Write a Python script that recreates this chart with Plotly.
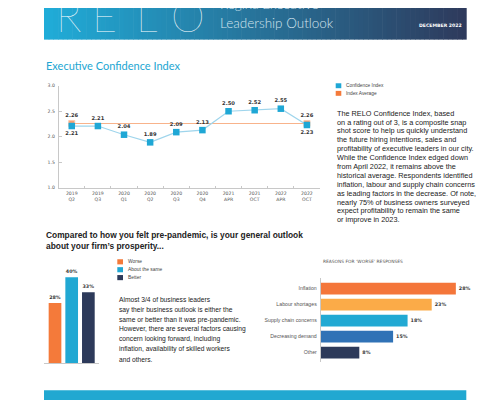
import plotly.graph_objects as go

W, H = 495, 400
def px(x): return x / W
def py(y): return 1 - y / H

# ---------------- data ----------------
periods = ["2019<br>Q2", "2019<br>Q3", "2020<br>Q1", "2020<br>Q2", "2020<br>Q3",
           "2020<br>Q4", "2021<br>APR", "2021<br>OCT", "2022<br>APR", "2022<br>OCT"]
confidence = [2.21, 2.21, 2.04, 1.89, 2.09, 2.13, 2.50, 2.52, 2.55, 2.23]
index_average = [2.26, 2.26, 2.26, 2.26, 2.26, 2.26, 2.26, 2.26, 2.26, 2.26]
y_ticks = [1.0, 1.5, 2.0, 2.5, 3.0]

outlook_cats = ["Worse", "About the same", "Better"]
outlook_vals = [28, 40, 33]

reasons = ["Inflation", "Labour shortages", "Supply chain concerns", "Decreasing demand", "Other"]
reason_vals = [28, 23, 18, 15, 8]

# ---------------- styles ----------------
BLUE = "#1fa7d5"
LBLUE = "#9fd5ec"
ORANGE = "#f47a3a"
LORANGE = "#f8b38b"
NAVY = "#2d3a5a"
outlook_colors = [ORANGE, "#21a8d3", NAVY]
reason_colors = ["#f4763a", "#fbab48", "#22a9d3", "#3072b6", "#2d3a5a"]
BODY = "Liberation Sans, Arial, sans-serif"
MONO = "DejaVu Sans, sans-serif"

fig = go.Figure()

# line chart
fig.add_trace(go.Scatter(
    x=periods, y=index_average, mode="lines+markers+text",
    line=dict(color=LORANGE, width=1.2),
    marker=dict(symbol="square", color=ORANGE,
                size=[6 if i in (0, len(periods) - 1) else 0 for i in range(len(periods))]),
    text=["%.2f" % v if i in (0, len(periods) - 1) else "" for i, v in enumerate(index_average)],
    textposition="top center",
    textfont=dict(family=MONO, size=5.2, color="#333", weight="bold"),
    cliponaxis=False, xaxis="x", yaxis="y", showlegend=False, hoverinfo="skip"))

fig.add_trace(go.Scatter(
    x=periods, y=confidence, mode="lines+markers+text",
    line=dict(color=LBLUE, width=1.2),
    marker=dict(symbol="square", color=BLUE, size=6.5),
    text=["%.2f" % v for v in confidence],
    textposition=["bottom center" if i in (0, len(confidence) - 1) else "top center"
                  for i in range(len(confidence))],
    textfont=dict(family=MONO, size=5.2, color="#333", weight="bold"),
    cliponaxis=False, xaxis="x", yaxis="y", showlegend=False))

# vertical bars
fig.add_trace(go.Bar(
    x=outlook_cats, y=outlook_vals, marker=dict(color=outlook_colors, line=dict(width=0)),
    width=0.76, text=["%d%%" % v for v in outlook_vals], textposition="outside",
    textfont=dict(family=MONO, size=4.8, color="#333", weight="bold"),
    cliponaxis=False, xaxis="x2", yaxis="y2", showlegend=False))

# horizontal bars
fig.add_trace(go.Bar(
    y=reasons, x=reason_vals, orientation="h",
    marker=dict(color=reason_colors, line=dict(width=0)),
    width=0.74, text=["%d%%" % v for v in reason_vals], textposition="outside",
    textfont=dict(family=MONO, size=4.8, color="#333", weight="bold"),
    cliponaxis=False, xaxis="x3", yaxis="y3", showlegend=False))

shapes = []
# header gradient band
c0 = (0x20, 0xac, 0xd8)
c1 = (0x2e, 0x3a, 0x5c)
N = 90
x0, x1 = 36, 458.7
for i in range(N):
    t = i / (N - 1)
    col = "rgb(%d,%d,%d)" % tuple(round(c0[k] + (c1[k] - c0[k]) * t) for k in range(3))
    xa = x0 + (x1 - x0) * i / N
    xb = x0 + (x1 - x0) * (i + 1) / N + 0.6
    shapes.append(dict(type="rect", xref="paper", yref="paper", x0=px(xa), x1=px(min(xb, x1)),
                       y0=py(30), y1=py(-2), fillcolor=col, line=dict(width=0), layer="below"))
# bottom band
shapes.append(dict(type="rect", xref="paper", yref="paper", x0=px(36), x1=px(458.3),
                   y0=py(402), y1=py(385), fillcolor="#21a8d1", line=dict(width=0), layer="below"))
# legends squares
for yy, col in [(76.7, BLUE), (84.4, ORANGE)]:
    shapes.append(dict(type="rect", xref="paper", yref="paper", x0=px(327.7), x1=px(333.3),
                       y0=py(yy + 2.5), y1=py(yy - 2.5), fillcolor=col, line=dict(width=0)))
for yy, col in zip([255, 263, 271], outlook_colors):
    shapes.append(dict(type="rect", xref="paper", yref="paper", x0=px(109.3), x1=px(115),
                       y0=py(yy + 2.6), y1=py(yy - 2.6), fillcolor=col, line=dict(width=0)))

ann = []
def T(x, y, s, size, color="#222", family=BODY, weight="normal", xanchor="left"):
    ann.append(dict(x=px(x), y=py(y), xref="paper", yref="paper", text=s, showarrow=False,
                    xanchor=xanchor, yanchor="middle",
                    font=dict(family=family, size=size, color=color, weight=weight)))

# header text
for ch, cx in zip("RELO", [60, 96, 139, 180]):
    ann.append(dict(x=px(cx), y=py(5.5), xref="paper", yref="paper", text=ch, showarrow=False,
                    xanchor="center", yanchor="middle",
                    font=dict(family="Lato, DejaVu Sans", size=43, color="white", weight=200)))
T(210, -6, "Regina Executive", 13.5, "#d3e4ee", "Lato, DejaVu Sans", 300)
T(210, 13, "Leadership Outlook", 13.5, "#d3e4ee", "Lato, DejaVu Sans", 300)
T(409, 15.5, "DECEMBER 2022", 4.6, "white", MONO, "bold")
T(51.7, 400, "ABOUT THIS REPORT", 4.6, "white", MONO, "bold")

T(36, 56, "Executive Confidence Index", 11, "#22a6d2", "Lato, Liberation Sans", 400)
T(336, 76.7, "Confidence Index", 4.8, "#444", BODY)
T(336, 84.4, "Index Average", 4.8, "#444", BODY)

para1 = ["The RELO Confidence Index, based",
         "on a rating out of 3, is a composite snap",
         "shot score to help us quickly understand",
         "the future hiring intentions, sales and",
         "profitability of executive leaders in our city.",
         "While the Confidence Index edged down",
         "from April 2022, it remains above the",
         "historical average. Respondents identified",
         "inflation, labour and supply chain concerns",
         "as leading factors in the decrease. Of note,",
         "nearly 75% of business owners surveyed",
         "expect profitability to remain the same",
         "or improve in 2023."]
for i, s in enumerate(para1):
    T(327, 104.5 + i * 9.0, s, 7.3, "#222")

T(36, 228, "Compared to how you felt pre-pandemic, is your general outlook", 8.4, "#222", BODY, "bold")
T(36, 238.5, "about your firm\u2019s prosperity...", 8.4, "#222", BODY, "bold")

for yy, s in zip([255, 263, 271], outlook_cats):
    T(117.7, yy, s, 4.9, "#444", BODY)

para2 = ["Almost 3/4 of business leaders",
         "say their business outlook is either the",
         "same or better than it was pre-pandemic.",
         "However, there are several factors causing",
         "concern looking forward, including",
         "inflation, availability of skilled workers",
         "and others."]
for i, s in enumerate(para2):
    T(109, 293.5 + i * 10.0, s, 6.7, "#222")

T(312.7, 255, "REASONS FOR \u2018WORSE\u2019 RESPONSES", 4.4, "#555", MONO)

fig.update_layout(
    width=W, height=H, margin=dict(l=0, r=0, t=0, b=0),
    paper_bgcolor="white", plot_bgcolor="rgba(0,0,0,0)",
    shapes=shapes, annotations=ann, bargap=0.2,
    xaxis=dict(domain=[px(50.7), px(312)], type="category", range=[-0.5, 9.5],
               showline=True, linecolor="#c8c8c8", linewidth=0.8, showgrid=False, zeroline=False,
               ticks="inside", tickson="boundaries", ticklen=2, tickcolor="#c8c8c8",
               tickfont=dict(family=MONO, size=4.6, color="#555"), ticklabelstandoff=1),
    yaxis=dict(domain=[py(180), py(76.7)], range=[1.0, 3.0], tickvals=y_ticks,
               tickformat=".1f", showline=True, linecolor="#c8c8c8", linewidth=0.8,
               showgrid=False, zeroline=False, ticks="inside", ticklen=3, tickcolor="#c8c8c8",
               tickfont=dict(family=MONO, size=4.6, color="#555"), ticklabelstandoff=2),
    xaxis2=dict(domain=[px(36), px(90.7)], type="category", range=[-0.66, 2.62],
                showline=True, linecolor="#c8c8c8", linewidth=0.8, showticklabels=False,
                showgrid=False, zeroline=False, anchor="y2"),
    yaxis2=dict(domain=[py(357.7), py(259.8)], range=[0, 45], visible=False, anchor="x2"),
    xaxis3=dict(domain=[px(312.7), px(457.5)], range=[0, 30], visible=False, anchor="y3"),
    yaxis3=dict(domain=[py(356.7), py(271)], type="category", range=[4.6, -0.69],
                showline=True, linecolor="#c8c8c8", linewidth=0.8, showgrid=False,
                zeroline=False, ticks="", anchor="x3",
                tickfont=dict(family=BODY, size=5.2, color="#555"), ticklabelstandoff=2),
)

fig.write_html("out.html")
